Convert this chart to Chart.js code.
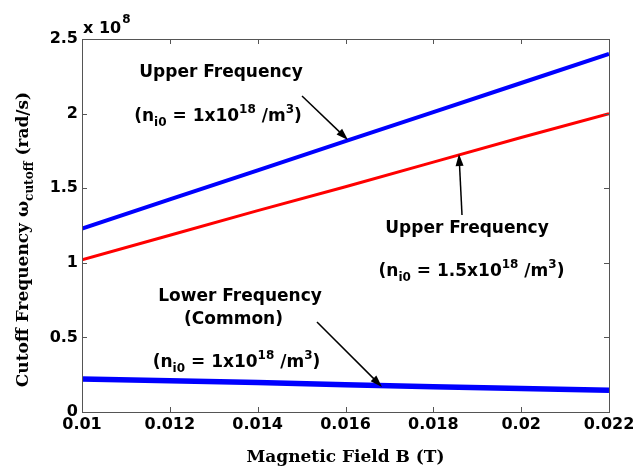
<!DOCTYPE html>
<html>
<head>
<meta charset="utf-8">
<script src="https://cdn.jsdelivr.net/npm/chart.js@4.4.1/dist/chart.umd.min.js"></script>
<style>
  html, body { margin: 0; padding: 0; background: #fff; }
  #wrap { width: 634px; height: 471px; }
</style>
</head>
<body>
<div id="wrap"><canvas id="cutoffChart" width="634" height="471"></canvas></div>
<script>
// magnetic field B (T)
const fieldB = [0.010, 0.012, 0.014, 0.016, 0.018, 0.020, 0.022];
// cutoff frequency, units of 1e8 rad/s
const upperN1 = [1.23, 1.425, 1.62, 1.815, 2.01, 2.205, 2.40];
const upperN15 = [1.02, 1.185, 1.35, 1.51, 1.675, 1.84, 2.00];
const lowerCommon = [0.222, 0.210, 0.197, 0.183, 0.170, 0.157, 0.145];
const xTicks = [0.010, 0.012, 0.014, 0.016, 0.018, 0.020, 0.022];
const yTicks = [0, 0.5, 1, 1.5, 2, 2.5];

const sansBold = '"DejaVu Sans", sans-serif';
const serifBold = '"DejaVu Serif", serif';

const pts = ys => fieldB.map((b, i) => ({ x: b, y: ys[i] }));

// draw text made of [text, level] pieces: 0 normal, -1 subscript, 1 superscript
function richText(ctx, parts, cx, cy, size, family) {
  const small = Math.round(size * 0.7);
  let total = 0;
  parts.forEach(([t, lv]) => {
    ctx.font = `bold ${lv ? small : size}px ${family}`;
    total += ctx.measureText(t).width;
  });
  let x = cx - total / 2;
  ctx.textBaseline = 'middle';
  ctx.textAlign = 'left';
  parts.forEach(([t, lv]) => {
    ctx.font = `bold ${lv ? small : size}px ${family}`;
    const dy = lv === -1 ? size * 0.35 : lv === 1 ? -size * 0.4 : 0;
    ctx.fillText(t, x, cy + dy);
    x += ctx.measureText(t).width;
  });
}

function arrow(ctx, x1, y1, x2, y2) {
  const a = Math.atan2(y2 - y1, x2 - x1);
  const len = 12, w = 4;
  ctx.beginPath();
  ctx.moveTo(x1, y1);
  ctx.lineTo(x2 - Math.cos(a) * len * 0.8, y2 - Math.sin(a) * len * 0.8);
  ctx.stroke();
  ctx.beginPath();
  ctx.moveTo(x2, y2);
  ctx.lineTo(x2 - Math.cos(a) * len + Math.sin(a) * w, y2 - Math.sin(a) * len - Math.cos(a) * w);
  ctx.lineTo(x2 - Math.cos(a) * len - Math.sin(a) * w, y2 - Math.sin(a) * len + Math.cos(a) * w);
  ctx.closePath();
  ctx.fill();
}

const framePlugin = {
  id: 'frame',
  afterDatasetsDraw(chart) {
    const { ctx, chartArea: ca, scales: { x, y } } = chart;
    ctx.save();
    ctx.strokeStyle = '#555';
    ctx.lineWidth = 1;
    ctx.strokeRect(ca.left + 0.5, ca.top + 0.5, ca.right - ca.left, ca.bottom - ca.top);
    ctx.beginPath();
    xTicks.forEach(v => {
      const px = Math.round(x.getPixelForValue(v)) + 0.5;
      ctx.moveTo(px, ca.bottom); ctx.lineTo(px, ca.bottom - 5);
      ctx.moveTo(px, ca.top); ctx.lineTo(px, ca.top + 5);
    });
    yTicks.forEach(v => {
      const py = Math.round(y.getPixelForValue(v)) + 0.5;
      ctx.moveTo(ca.left, py); ctx.lineTo(ca.left + 5, py);
      ctx.moveTo(ca.right, py); ctx.lineTo(ca.right - 5, py);
    });
    ctx.stroke();
    ctx.restore();
  }
};

const notesPlugin = {
  id: 'notes',
  afterDraw(chart) {
    const { ctx, chartArea: ca, scales: { x, y } } = chart;
    const X = v => x.getPixelForValue(v), Y = v => y.getPixelForValue(v);
    ctx.save();
    ctx.fillStyle = '#000';
    ctx.strokeStyle = '#000';
    ctx.lineWidth = 1.5;

    richText(ctx, [['Upper Frequency', 0]], X(0.013165), Y(2.272), 17, sansBold);
    richText(ctx, [['(n', 0], ['i0', -1], [' = 1x10', 0], ['18', 1], [' /m', 0], ['3', 1], [')', 0]], X(0.013097), Y(1.977), 17, sansBold);
    richText(ctx, [['Upper Frequency', 0]], X(0.018767), Y(1.2266), 17, sansBold);
    richText(ctx, [['(n', 0], ['i0', -1], [' = 1.5x10', 0], ['18', 1], [' /m', 0], ['3', 1], [')', 0]], X(0.018869), Y(0.938), 17, sansBold);
    richText(ctx, [['Lower Frequency', 0]], X(0.013598), Y(0.771), 17, sansBold);
    richText(ctx, [['(Common)', 0]], X(0.013450), Y(0.617), 17, sansBold);
    richText(ctx, [['(n', 0], ['i0', -1], [' = 1x10', 0], ['18', 1], [' /m', 0], ['3', 1], [')', 0]], X(0.013518), Y(0.328), 17, sansBold);

    arrow(ctx, X(0.01501), Y(2.118), X(0.016057), Y(1.823));
    arrow(ctx, X(0.018653), Y(1.320), X(0.018584), Y(1.729));
    arrow(ctx, X(0.015351), Y(0.603), X(0.016831), Y(0.168));

    // exponent above the y axis
    ctx.textBaseline = 'alphabetic';
    ctx.textAlign = 'left';
    ctx.font = `bold 16px ${sansBold}`;
    ctx.fillText('x 10', ca.left + 1, ca.top - 6);
    const w = ctx.measureText('x 10').width;
    ctx.font = `bold 12px ${sansBold}`;
    ctx.fillText('8', ca.left + 2 + w, ca.top - 16);

    // axis titles
    richText(ctx, [['Magnetic Field B (T)', 0]], (ca.left + ca.right) / 2, 458, 17, serifBold);
    ctx.translate(24, (ca.top + ca.bottom) / 2 + 14);
    ctx.rotate(-Math.PI / 2);
    richText(ctx, [['Cutoff Frequency \u03c9', 0], ['cutoff', -1], [' (rad/s)', 0]], 0, 0, 17, serifBold);
    ctx.restore();
  }
};

new Chart(document.getElementById('cutoffChart'), {
  type: 'line',
  data: {
    datasets: [
      { label: 'Upper, ni0 = 1e18', data: pts(upperN1), borderColor: '#0000ff', borderWidth: 4 },
      { label: 'Upper, ni0 = 1.5e18', data: pts(upperN15), borderColor: '#ff0000', borderWidth: 3 },
      { label: 'Lower (common)', data: pts(lowerCommon), borderColor: '#0000ff', borderWidth: 5.5 }
    ]
  },
  options: {
    responsive: false,
    animation: false,
    events: [],
    elements: { point: { radius: 0 }, line: { tension: 0 } },
    layout: { padding: { top: 39, right: 25, left: 0, bottom: 0 } },
    plugins: { legend: { display: false }, tooltip: { enabled: false } },
    scales: {
      x: {
        type: 'linear', min: 0.01, max: 0.022,
        afterBuildTicks: s => { s.ticks = xTicks.map(v => ({ value: v })); },
        afterFit: s => { s.height = 59; s.paddingLeft = 0; s.paddingRight = 0; },
        grid: { display: false, drawTicks: false }, border: { display: false },
        ticks: {
          padding: 3, maxRotation: 0, autoSkip: false, color: '#000',
          font: { family: sansBold, size: 16, weight: 'bold' },
          callback: v => String(Number(v.toFixed(3)))
        }
      },
      y: {
        min: 0, max: 2.5,
        afterBuildTicks: s => { s.ticks = yTicks.map(v => ({ value: v })); },
        afterFit: s => { s.width = 82; s.paddingTop = 0; s.paddingBottom = 0; },
        grid: { display: false, drawTicks: false }, border: { display: false },
        ticks: {
          padding: 4, color: '#000',
          font: { family: sansBold, size: 16, weight: 'bold' },
          callback: v => String(v)
        }
      }
    }
  },
  plugins: [framePlugin, notesPlugin]
});
</script>
</body>
</html>
